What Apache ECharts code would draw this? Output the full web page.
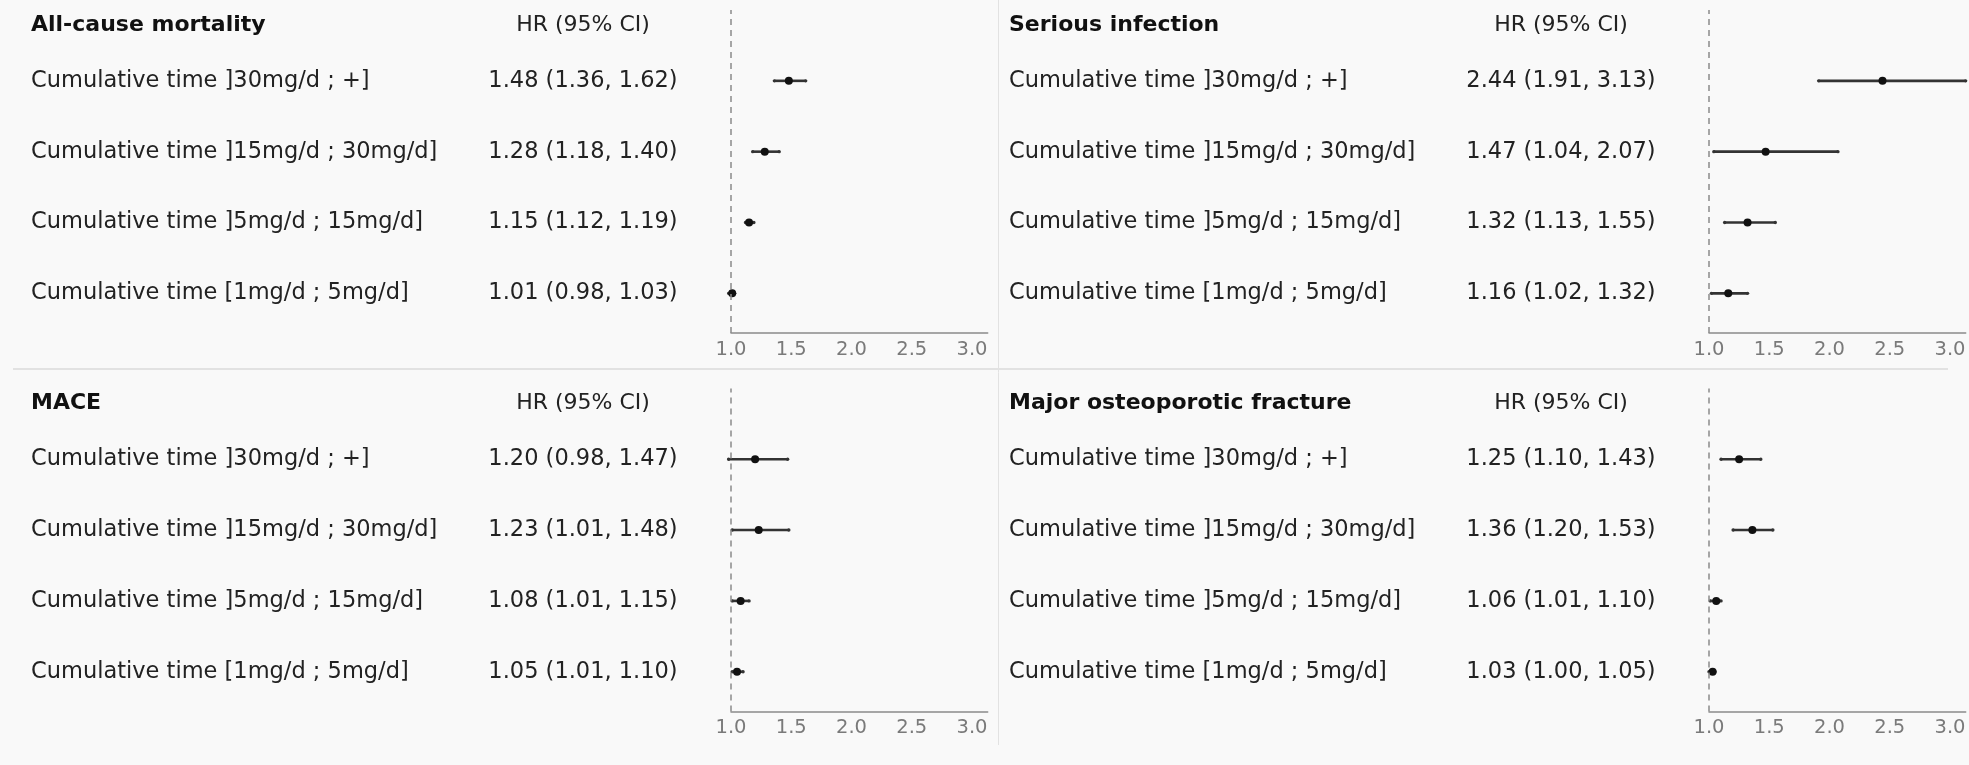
<!DOCTYPE html>
<html>
<head>
<meta charset="utf-8">
<title>Forest plot</title>
<script src="https://cdn.jsdelivr.net/npm/echarts@6/dist/echarts.min.js"></script>
<style>
  html, body { margin: 0; padding: 0; background: #f9f9f9; }
  #chart { width: 1969px; height: 765px; }
</style>
</head>
<body>
<div id="chart"></div>
<script>
// data
const panelTitles = ['All-cause mortality', 'Serious infection', 'MACE', 'Major osteoporotic fracture'];
const rowLabels = [
  'Cumulative time ]30mg/d ; +]',
  'Cumulative time ]15mg/d ; 30mg/d]',
  'Cumulative time ]5mg/d ; 15mg/d]',
  'Cumulative time [1mg/d ; 5mg/d]'
];
const headerText = 'HR (95% CI)';

const mortalityHR = [1.48, 1.28, 1.15, 1.01];
const mortalityLow = [1.36, 1.18, 1.12, 0.98];
const mortalityHigh = [1.62, 1.40, 1.19, 1.03];

const infectionHR = [2.44, 1.47, 1.32, 1.16];
const infectionLow = [1.91, 1.04, 1.13, 1.02];
const infectionHigh = [3.13, 2.07, 1.55, 1.32];

const maceHR = [1.20, 1.23, 1.08, 1.05];
const maceLow = [0.98, 1.01, 1.01, 1.01];
const maceHigh = [1.47, 1.48, 1.15, 1.10];

const fractureHR = [1.25, 1.36, 1.06, 1.03];
const fractureLow = [1.10, 1.20, 1.01, 1.00];
const fractureHigh = [1.43, 1.53, 1.10, 1.05];

const xMin = 1, xMax = 3.13, xStep = 0.5;
const refValue = 1;

// row positions on the hidden y scale (top row first)
const rowY = [4, 3, 2, 1];
const headerY = 4.79;
const yMin = 0.44, yMax = 5;

const panels = [
  { title: panelTitles[0], hr: mortalityHR, lo: mortalityLow, hi: mortalityHigh },
  { title: panelTitles[1], hr: infectionHR, lo: infectionLow, hi: infectionHigh },
  { title: panelTitles[2], hr: maceHR, lo: maceLow, hi: maceHigh },
  { title: panelTitles[3], hr: fractureHR, lo: fractureLow, hi: fractureHigh }
];

const FONT = '"DejaVu Sans", sans-serif';

function textRenderer(texts, align, font, color) {
  return function (params, api) {
    const p = api.coord([api.value(0), api.value(1)]);
    return {
      type: 'text',
      x: p[0],
      y: p[1],
      style: {
        text: texts[params.dataIndex],
        font: font,
        fill: color,
        align: align,
        verticalAlign: 'middle'
      }
    };
  };
}

function renderCI(params, api) {
  const y = api.value(0);
  const a = api.coord([api.value(1), y]);
  const b = api.coord([api.value(2), y]);
  return {
    type: 'group',
    children: [
      { type: 'line', shape: { x1: a[0], y1: a[1], x2: b[0], y2: b[1] }, style: { stroke: '#333', lineWidth: 2.6 } },
      { type: 'circle', shape: { cx: a[0], cy: a[1], r: 1.7 }, style: { fill: '#333' } },
      { type: 'circle', shape: { cx: b[0], cy: b[1], r: 1.7 }, style: { fill: '#333' } }
    ]
  };
}

const fmt = v => v.toFixed(2);

const grid = [], xAxis = [], yAxis = [], series = [];

panels.forEach((pn, i) => {
  const ox = (i % 2) * 978;
  const oy = Math.floor(i / 2) * 378.4;
  const tg = grid.length;
  const pg = tg + 1;

  // text table area
  grid.push({ left: 31 + ox, top: 10 + oy, width: 552, height: 323 });
  // plot area
  grid.push({ left: 731 + ox, top: 10 + oy, width: (xMax - xMin) * 120.5, height: 323 });

  xAxis.push({ gridIndex: tg, type: 'value', min: 0, max: 1, show: false });
  xAxis.push({
    gridIndex: pg, type: 'value', min: xMin, max: xMax, interval: xStep,
    axisLine: { show: true, lineStyle: { color: '#8a8a8a', width: 1.5 } },
    axisTick: { show: false },
    splitLine: { show: false },
    axisLabel: {
      showMaxLabel: false, color: '#7a7a7a', fontSize: 19.5, fontFamily: FONT, margin: 7,
      formatter: v => v.toFixed(1)
    }
  });
  yAxis.push({ gridIndex: tg, type: 'value', min: yMin, max: yMax, show: false });
  yAxis.push({ gridIndex: pg, type: 'value', min: yMin, max: yMax, show: false });

  const valueTexts = pn.hr.map((h, k) => `${fmt(h)} (${fmt(pn.lo[k])}, ${fmt(pn.hi[k])})`);

  series.push({
    type: 'custom', xAxisIndex: tg, yAxisIndex: tg, silent: true,
    data: [[0, headerY]],
    renderItem: textRenderer([pn.title], 'left', 'bold 22px ' + FONT, '#111')
  });
  series.push({
    type: 'custom', xAxisIndex: tg, yAxisIndex: tg, silent: true,
    data: [[1, headerY]],
    renderItem: textRenderer([headerText], 'center', '22px ' + FONT, '#222')
  });
  series.push({
    type: 'custom', xAxisIndex: tg, yAxisIndex: tg, silent: true,
    data: rowY.map(y => [0, y]),
    renderItem: textRenderer(rowLabels, 'left', '22.5px ' + FONT, '#222')
  });
  series.push({
    type: 'custom', xAxisIndex: tg, yAxisIndex: tg, silent: true,
    data: rowY.map(y => [1, y]),
    renderItem: textRenderer(valueTexts, 'center', '22.5px ' + FONT, '#222')
  });

  // confidence intervals
  series.push({
    type: 'custom', xAxisIndex: pg, yAxisIndex: pg, silent: true, clip: false,
    data: rowY.map((y, k) => [y, pn.lo[k], pn.hi[k]]),
    renderItem: renderCI,
    z: 3
  });
  // point estimates + reference line
  series.push({
    type: 'scatter', xAxisIndex: pg, yAxisIndex: pg, silent: true,
    symbolSize: 8,
    itemStyle: { color: '#111', opacity: 1 },
    data: rowY.map((y, k) => [pn.hr[k], y]),
    z: 4,
    markLine: {
      silent: true, symbol: 'none', label: { show: false },
      lineStyle: { color: '#8a8a8a', type: [6, 5], width: 1.5 },
      data: [{ xAxis: refValue }]
    }
  });
});

const chart = echarts.init(document.getElementById('chart'));
chart.setOption({
  backgroundColor: '#f9f9f9',
  animation: false,
  grid, xAxis, yAxis, series,
  graphic: [
    { type: 'line', silent: true, shape: { x1: 998.5, y1: 0, x2: 998.5, y2: 745 }, style: { stroke: '#e2e2e2', lineWidth: 1 } },
    { type: 'line', silent: true, shape: { x1: 13, y1: 369, x2: 1948, y2: 369 }, style: { stroke: '#e2e2e2', lineWidth: 2 } }
  ]
});
</script>
</body>
</html>
